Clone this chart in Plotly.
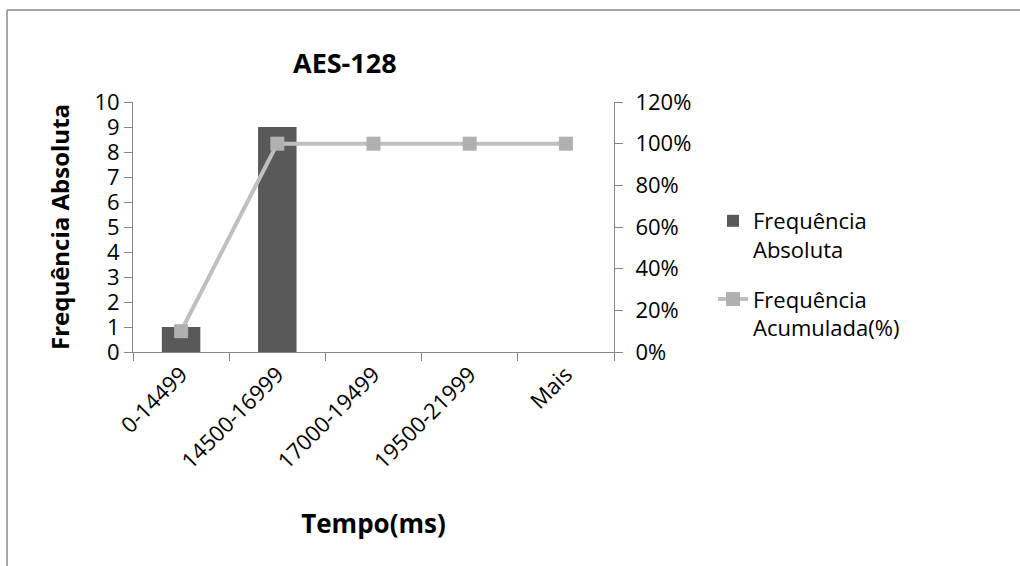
import plotly.graph_objects as go

categories = ["0-14499", "14500-16999", "17000-19499", "19500-21999", "Mais"]
freq_abs = [1, 9, 0, 0, 0]
freq_acum = [0.10, 1.00, 1.00, 1.00, 1.00]

W, H = 1020, 566
L, R, T, B = 133, 614, 102, 352

def px(x):
    return (x - L) / (R - L)

def py(y):
    return (B - y) / (B - T)

FONT = "Open Sans"
AX = "#868686"
FS = 22
BORDER = dict(color="#898989", width=1.5)

fig = go.Figure()
fig.add_trace(go.Bar(
    x=categories, y=freq_abs, name="Frequência<br>Absoluta", legendgroup="abs",
    marker=dict(color="#595959", line=dict(width=0)), yaxis="y",
))
fig.add_trace(go.Scatter(
    x=categories, y=freq_acum, name="Frequência<br>Acumulada(%)", legendgroup="acum",
    mode="lines+markers", yaxis="y2",
    line=dict(color="#BFBFBF", width=4),
    marker=dict(symbol="square", size=14, color="#B0B0B0"),
))

fig.update_layout(
    width=W, height=H,
    margin=dict(l=L, r=W - R, t=T, b=H - B, pad=0),
    paper_bgcolor="white", plot_bgcolor="white",
    font=dict(family=FONT, size=FS, color="black"),
    bargap=0.6,
    showlegend=True,
    legend=dict(x=px(713), y=py(200), xanchor="left", yanchor="top",
                font=dict(size=FS), valign="top", tracegroupgap=18,
                bgcolor="rgba(0,0,0,0)"),
    xaxis=dict(
        type="category", tickangle=-45, tickson="boundaries",
        ticks="outside", ticklen=8, tickcolor=AX, tickwidth=1,
        showline=True, linecolor=AX, linewidth=1, showgrid=False,
        tickfont=dict(size=FS),
        title=dict(text="<b>Tempo(ms)</b>", font=dict(size=26), standoff=41),
    ),
    yaxis=dict(
        range=[0, 10], dtick=1, ticks="outside", ticklen=8, tickcolor=AX,
        showline=True, linecolor=AX, linewidth=1, showgrid=False,
        zeroline=False, tickfont=dict(size=FS),
        title=dict(text="<b>Frequência Absoluta</b>", font=dict(size=24), standoff=18),
    ),
    yaxis2=dict(
        range=[0, 1.2], dtick=0.2, tickformat=".0%", overlaying="y", side="right",
        ticks="outside", ticklen=8, tickcolor=AX, ticklabelstandoff=8,
        showline=True, linecolor=AX, linewidth=1, showgrid=False,
        zeroline=False, tickfont=dict(size=FS),
    ),
    annotations=[dict(
        text="<b>AES-128</b>", x=px(345), y=py(62), xref="paper", yref="paper",
        showarrow=False, font=dict(size=27), xanchor="center", yanchor="middle",
    )],
    shapes=[
        dict(type="line", xref="paper", yref="paper",
             x0=px(7), x1=px(1025), y0=py(10), y1=py(10), line=BORDER, layer="below"),
        dict(type="line", xref="paper", yref="paper",
             x0=px(7), x1=px(7), y0=py(10), y1=py(570), line=BORDER, layer="below"),
    ],
)

fig.write_html("out.html", config={"displayModeBar": False},
               post_script="document.body.style.margin='0';"
                           "document.body.style.overflow='hidden';"
                           "document.documentElement.style.overflow='hidden';")
